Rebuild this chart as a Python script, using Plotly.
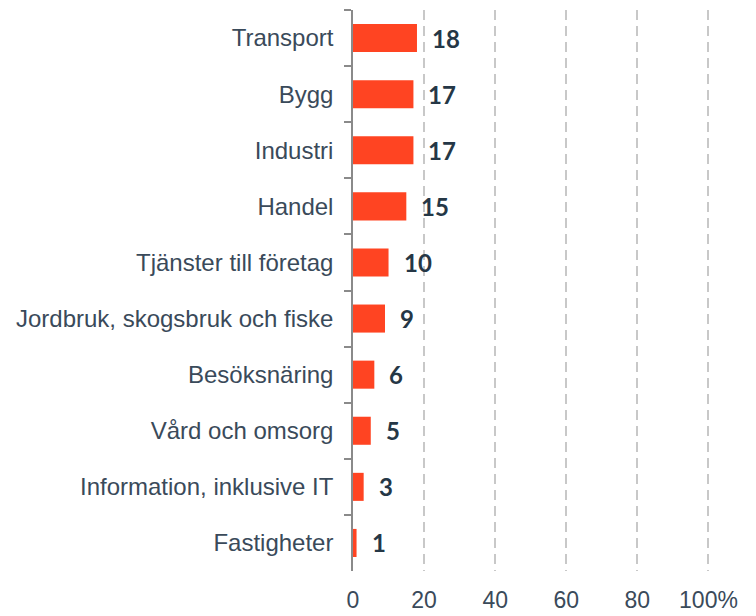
import plotly.graph_objects as go

categories = ["Transport", "Bygg", "Industri", "Handel", "Tjänster till företag",
              "Jordbruk, skogsbruk och fiske", "Besöksnäring", "Vård och omsorg",
              "Information, inklusive IT", "Fastigheter"]
values = [18, 17, 17, 15, 10, 9, 6, 5, 3, 1]
tick_vals = [0, 20, 40, 60, 80, 100]
tick_text = ["0", "20", "40", "60", "80", "100%"]

fig = go.Figure()
fig.add_trace(go.Bar(
    y=categories, x=values, orientation="h",
    marker=dict(color="#FF4422", line=dict(width=0)),
    width=0.5, hoverinfo="skip",
))
for c, v in zip(categories, values):
    fig.add_annotation(x=v, y=c, text=f"<b>{v}</b>", showarrow=False,
                       xanchor="left", xshift=13, yshift=0,
                       font=dict(family="Lato", size=24, color="#253746"))

fig.update_layout(
    width=756, height=616,
    margin=dict(l=353, r=44, t=10, b=45),
    plot_bgcolor="white", paper_bgcolor="white",
    showlegend=False,
    xaxis=dict(range=[0, 101], tickvals=tick_vals, ticktext=tick_text,
               showgrid=True, gridcolor="#c8c8c8", griddash="10px,6px", gridwidth=2,
               zeroline=False, showline=False, automargin=False,
               tickfont=dict(family="Liberation Sans", size=23, color="#3a4a5a"),
               ticklabelstandoff=13),
    yaxis=dict(autorange="reversed", showline=True, linecolor="#8a8a8a", linewidth=1.5,
               ticks="outside", tickson="boundaries", ticklen=7, tickcolor="#8a8a8a",
               tickwidth=1.5, showgrid=False, automargin=False,
               tickfont=dict(family="Liberation Sans", size=24, color="#3a4a5a"),
               ticklabelstandoff=13),
)
fig.write_html("out.html", config={"displayModeBar": False},
               post_script="document.body.style.margin='0px';")
